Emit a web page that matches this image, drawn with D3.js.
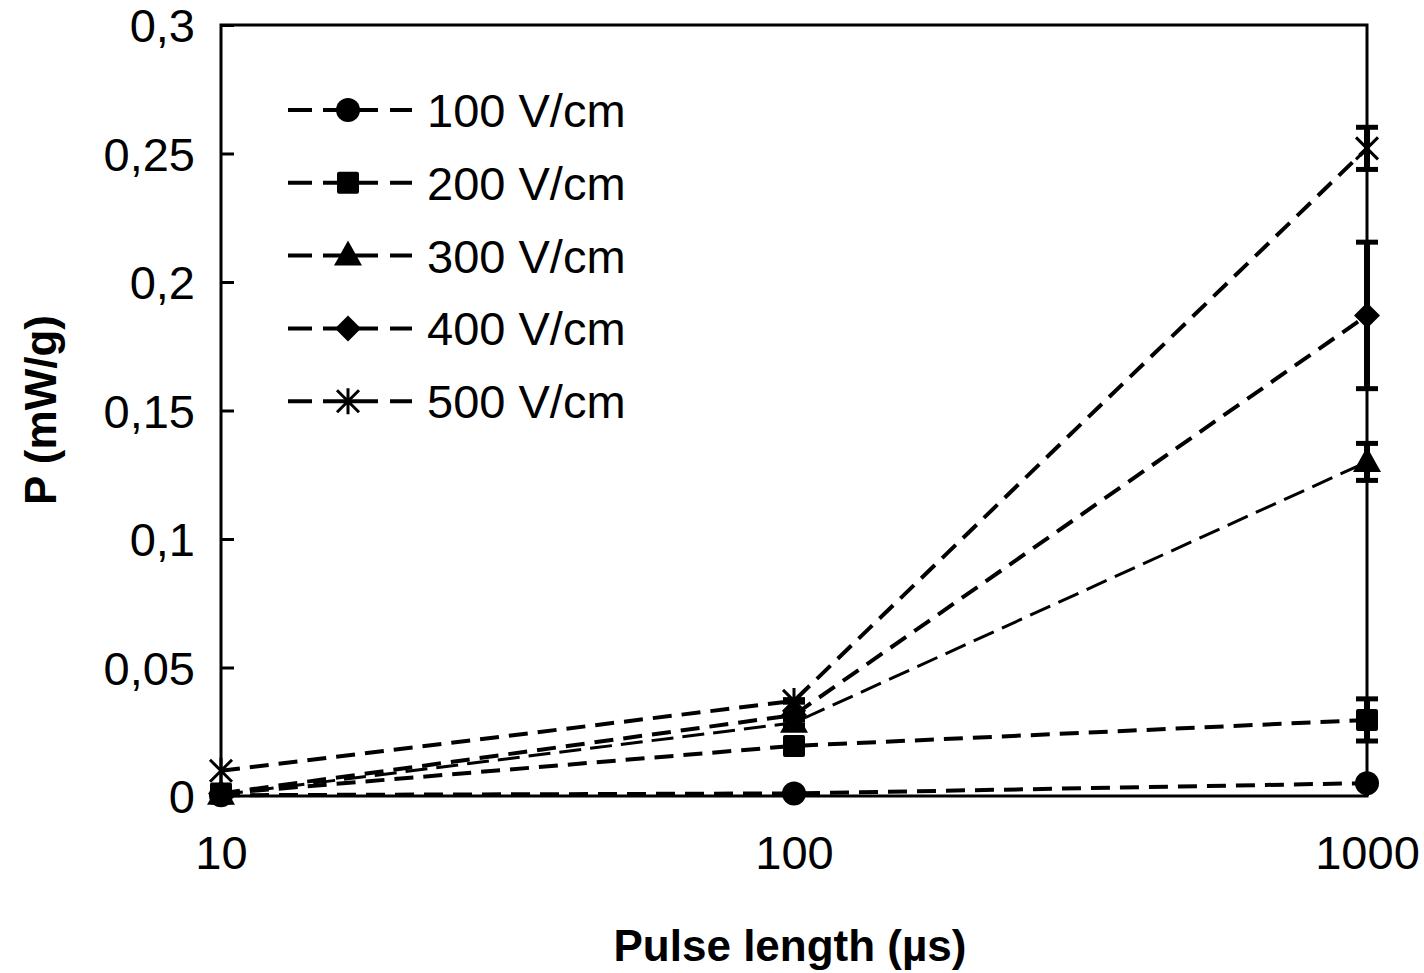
<!DOCTYPE html>
<html><head><meta charset="utf-8">
<script src="https://cdn.jsdelivr.net/npm/d3@7"></script>
<style>body{margin:0;background:#fff}svg{display:block}text{font-family:"Liberation Sans",Arial,sans-serif}</style>
</head><body>
<svg id="c" width="1424" height="973"></svg>
<script>
const pulseLengths = [10, 100, 1000];
const seriesNames = ["100 V/cm", "200 V/cm", "300 V/cm", "400 V/cm", "500 V/cm"];
const p100 = [0.0003, 0.001, 0.005];
const p200 = [0.001, 0.0195, 0.0296];
const p300 = [0.0005, 0.0285, 0.130];
const p400 = [0.001, 0.0315, 0.187];
const p500 = [0.0098, 0.037, 0.252];
const e100 = [0, 0.0003, 0.0008];
const e200 = [0, 0.001, 0.0082];
const e300 = [0, 0.001, 0.0072];
const e400 = [0, 0.001, 0.0285];
const e500 = [0, 0.0005, 0.0082];
const yTicks = [0, 0.05, 0.1, 0.15, 0.2, 0.25, 0.3];
const xTicks = [10, 100, 1000];
const markers = ["circle", "square", "triangle", "diamond", "star"];
const widths = [4, 4, 3, 4, 4];

const values = [p100, p200, p300, p400, p500];
const errors = [e100, e200, e300, e400, e500];

const svg = d3.select("#c");
const L = 221, R = 1367, T = 25, B = 796;
const x = d3.scaleLog().domain([10, 1000]).range([L, R]);
const y = d3.scaleLinear().domain([0, 0.3]).range([B, T]);

const fmt = d => d3.format("")(d).replace(".", ",");

const yAxis = d3.axisLeft(y).tickValues(yTicks).tickSize(-13).tickPadding(26).tickFormat(fmt);
const gy = svg.append("g").attr("transform", `translate(${L},0)`).call(yAxis);
gy.select(".domain").remove();
gy.selectAll(".tick line").attr("stroke", "#000").attr("stroke-width", 3);
gy.selectAll(".tick text").attr("font-size", 47).attr("fill", "#000").attr("dy", "0.36em");

const xAxis = d3.axisBottom(x).tickValues(xTicks).tickSize(-13).tickPadding(40).tickFormat(d3.format(""));
const gx = svg.append("g").attr("transform", `translate(0,${B})`).call(xAxis);
gx.select(".domain").remove();
gx.selectAll(".tick line").attr("stroke", "#000").attr("stroke-width", 3);
gx.selectAll(".tick text").attr("font-size", 47).attr("fill", "#000").attr("dy", "0.71em");

svg.append("rect").attr("x", L).attr("y", T).attr("width", R - L).attr("height", B - T)
  .attr("fill", "none").attr("stroke", "#000").attr("stroke-width", 3);

function drawMarker(g, type, cx, cy) {
  if (type === "circle") g.append("circle").attr("cx", cx).attr("cy", cy).attr("r", 12).attr("fill", "#000");
  else if (type === "square") g.append("rect").attr("x", cx - 11).attr("y", cy - 11).attr("width", 22).attr("height", 22).attr("rx", 2).attr("fill", "#000");
  else if (type === "triangle") g.append("path").attr("d", `M${cx},${cy - 15}L${cx + 14},${cy + 10}L${cx - 14},${cy + 10}Z`).attr("fill", "#000");
  else if (type === "diamond") g.append("path").attr("d", `M${cx},${cy - 13}L${cx + 13},${cy}L${cx},${cy + 13}L${cx - 13},${cy}Z`).attr("fill", "#000");
  else if (type === "star") {
    const s = 11;
    g.append("path").attr("d", `M${cx - s},${cy - s}L${cx + s},${cy + s}M${cx - s},${cy + s}L${cx + s},${cy - s}M${cx},${cy - s - 2}L${cx},${cy + s + 2}`)
      .attr("stroke", "#000").attr("stroke-width", 3).attr("fill", "none");
  }
}

const line = d3.line().x(d => x(d[0])).y(d => y(d[1]));

seriesNames.forEach((name, i) => {
  const g = svg.append("g");
  const pts = pulseLengths.map((p, j) => [p, values[i][j]]);
  g.append("path").datum(pts).attr("d", line).attr("fill", "none")
    .attr("stroke", "#000").attr("stroke-width", widths[i])
    .attr("stroke-dasharray", widths[i] === 3 ? "22,9" : "19,10");
  pulseLengths.forEach((p, j) => {
    const e = errors[i][j];
    if (e > 0) {
      const cx = x(p), y1 = y(values[i][j] + e), y2 = y(values[i][j] - e);
      g.append("line").attr("x1", cx).attr("x2", cx).attr("y1", y1).attr("y2", y2).attr("stroke", "#000").attr("stroke-width", 6);
      [y1, y2].forEach(yy => g.append("line").attr("x1", cx - 11).attr("x2", cx + 11).attr("y1", yy).attr("y2", yy).attr("stroke", "#000").attr("stroke-width", 5));
    }
    drawMarker(g, markers[i], x(p), y(values[i][j]));
  });
});

seriesNames.forEach((name, i) => {
  const ly = 110 + i * 72.8;
  const g = svg.append("g");
  g.append("line").attr("x1", 288).attr("x2", 412).attr("y1", ly).attr("y2", ly)
    .attr("stroke", "#000").attr("stroke-width", 4).attr("stroke-dasharray", "24,11,55,12,22");
  drawMarker(g, markers[i], 348, ly);
  g.append("text").attr("x", 427).attr("y", ly).attr("dy", "0.36em").attr("font-size", 47).text(name);
});

svg.append("text").attr("x", 790).attr("y", 945).attr("dy", "0.36em").attr("text-anchor", "middle")
  .attr("font-size", 44).attr("font-weight", "bold").text("Pulse length (µs)");
svg.append("text").attr("transform", "translate(40,410) rotate(-90)").attr("dy", "0.36em").attr("text-anchor", "middle")
  .attr("font-size", 44).attr("font-weight", "bold").text("P (mW/g)");
</script>
</body></html>
